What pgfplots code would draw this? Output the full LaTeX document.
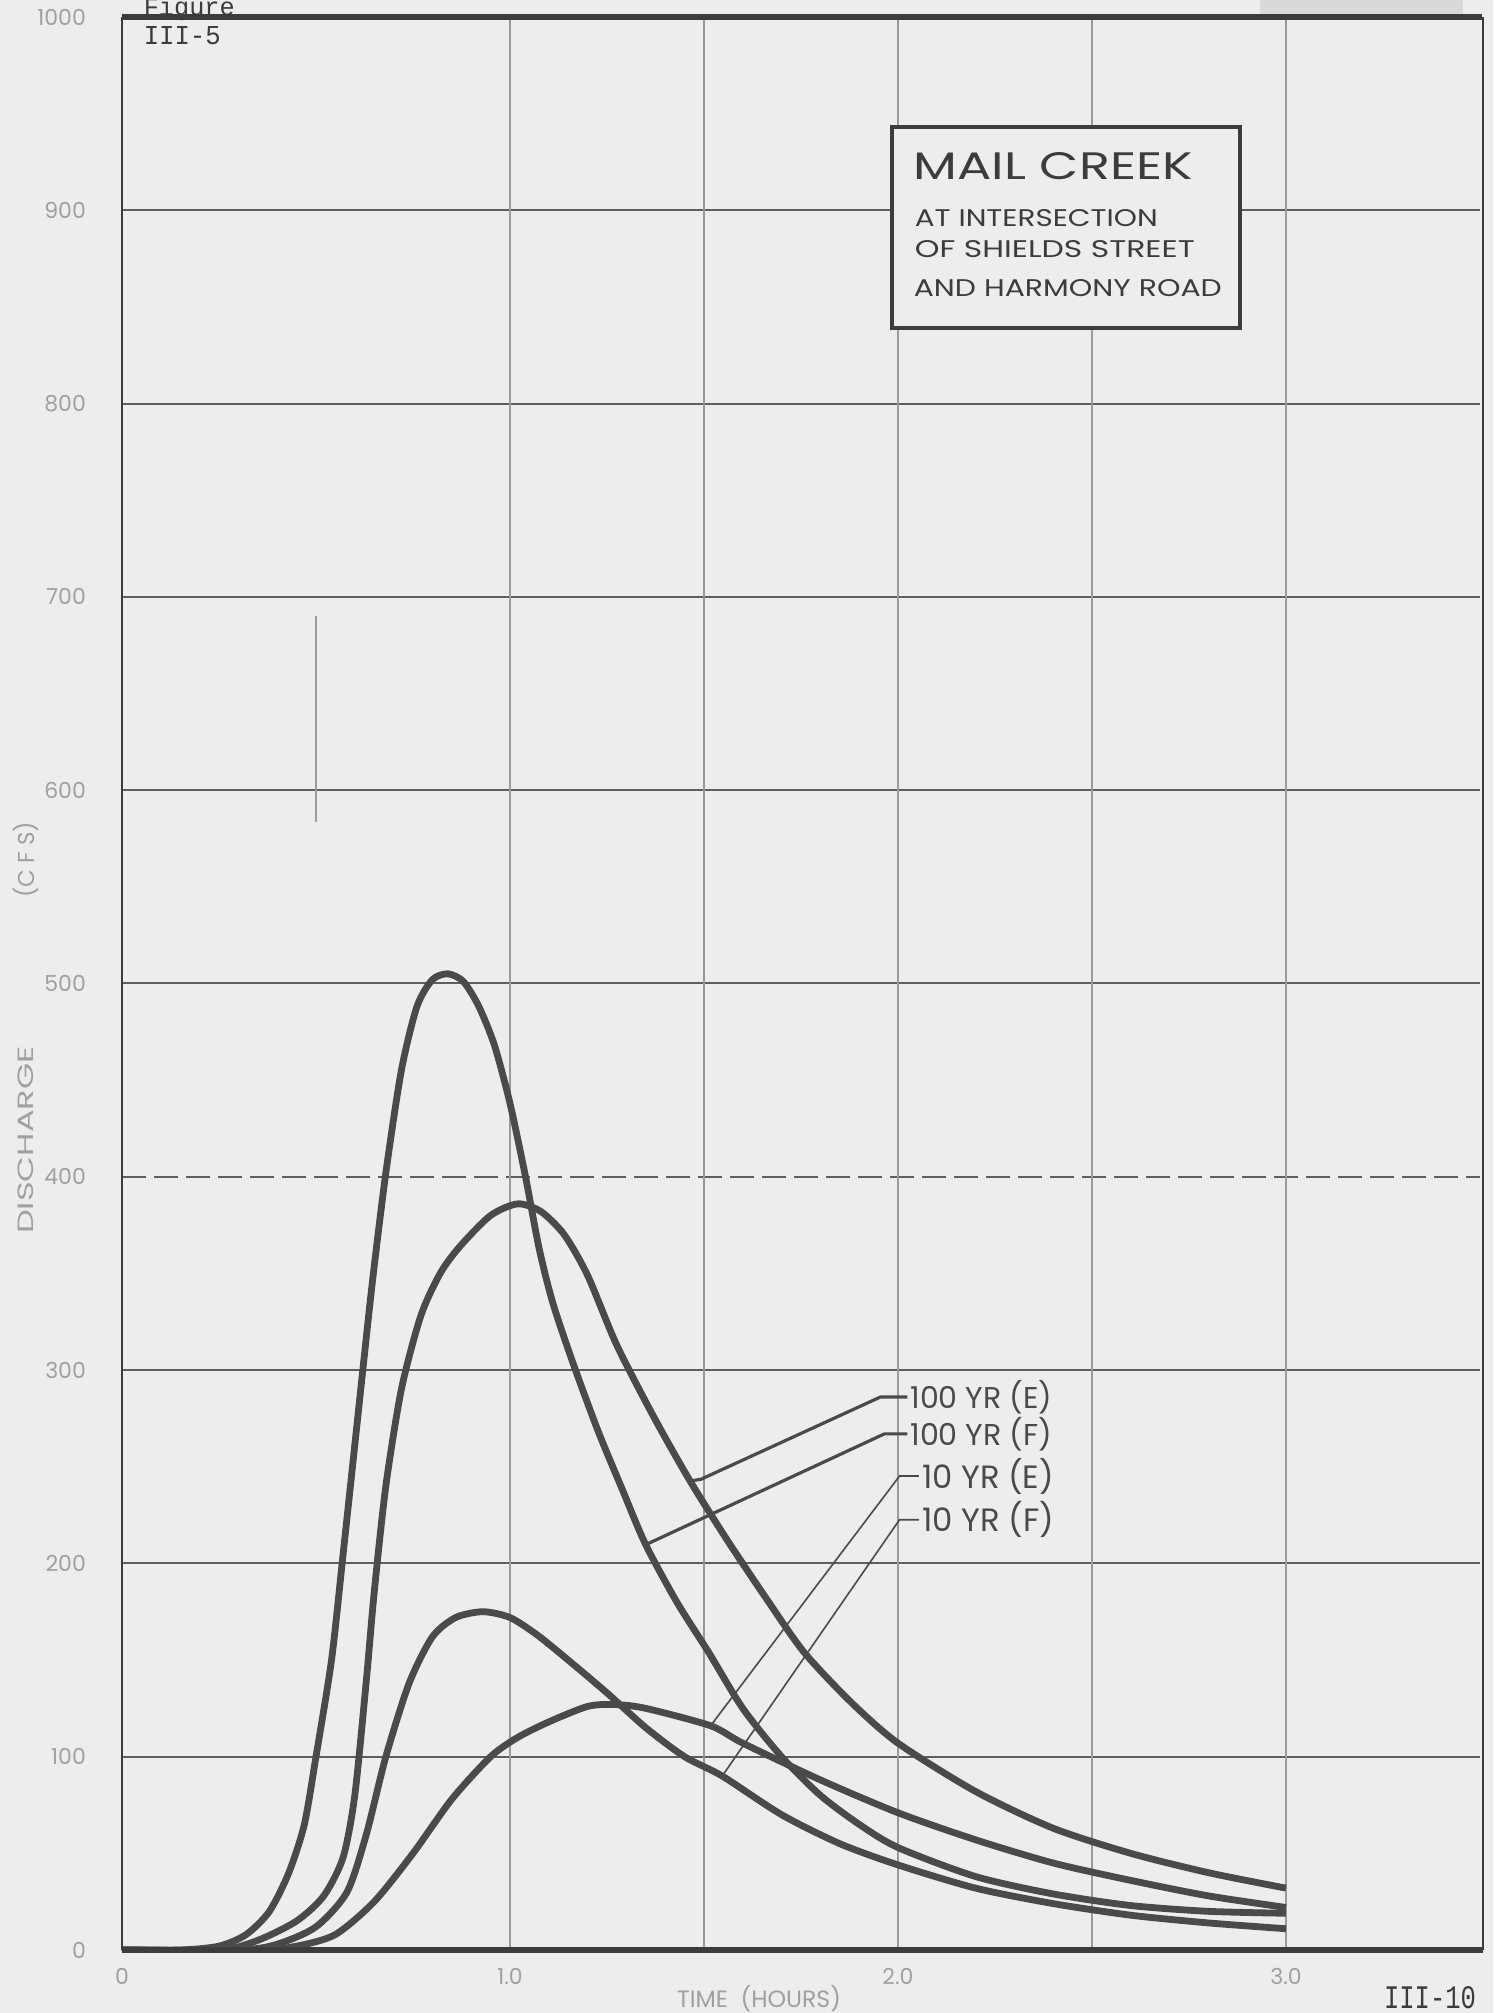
\documentclass[border=0pt]{standalone}
\usepackage{pgfplots}
\pgfplotsset{compat=1.18}
\usepackage{fontspec}
\setmainfont{Poppins}
\newfontfamily\tw{Liberation Mono}
\definecolor{bg}{HTML}{EDEDED}
\definecolor{ink}{HTML}{4A4A4A}
\definecolor{gridc}{HTML}{5E5E5E}
\definecolor{vgrid}{HTML}{999999}
\definecolor{faint}{HTML}{A0A0A0}
\definecolor{frame}{HTML}{3C3C3C}

\begin{document}
\begin{tikzpicture}
% background of the scanned sheet
\fill[bg] (-30.5pt,-15.75pt) rectangle (342.75pt,487.5pt);
% grid (under everything): 1 h = 97pt, 100 cfs = 48.325pt
\foreach \k in {1,2,3,5,6,7,8,9}{
  \draw[gridc, line width=0.5pt] (0,\k*48.325pt) -- (339.5pt,\k*48.325pt);
}
\draw[gridc, line width=0.5pt, dash pattern=on 6pt off 2pt] (0,4*48.325pt) -- (339.5pt,4*48.325pt);
\foreach \h in {1,1.5,2,2.5,3}{
  \draw[vgrid, line width=0.35pt] (\h*97pt,0) -- (\h*97pt,483.25pt);
}
\draw[vgrid, line width=0.35pt] (48.5pt,282pt) -- (48.5pt,333.5pt);

\begin{axis}[
  at={(0,0)}, anchor=south west,
  width=339.5pt, height=483.25pt, scale only axis,
  xmin=0, xmax=3.5, ymin=0, ymax=1000,
  axis line style={draw=none},
  major tick length=0pt,
  xtick={0,1,2,3}, xticklabels={0,1.0,2.0,3.0},
  ytick={0,100,200,300,400,500,600,700,800,900,1000},
  yticklabels={0,100,200,300,400,500,600,700,800,900,1000},
  xticklabel style={font=\fontsize{5.5}{6}\selectfont, text=faint, yshift=-1pt},
  yticklabel style={font=\fontsize{5.5}{6}\selectfont, text=faint, xshift=-5.5pt},
]
% 100 YR (F)
\addplot[ink, line width=1.7pt, smooth, tension=0.45] coordinates {
(0,0) (0.15,0) (0.25,2) (0.32,8) (0.38,20) (0.43,40) (0.47,65) (0.50,100)
(0.54,150) (0.57,205) (0.61,280) (0.645,345) (0.68,402) (0.72,455) (0.76,488)
(0.80,502) (0.84,505) (0.88,501) (0.92,488) (0.96,468) (1.00,438) (1.04,400)
(1.075,363) (1.11,335) (1.16,305) (1.226,269) (1.29,238) (1.349,210) (1.43,180)
(1.512,154) (1.60,125) (1.70,100) (1.80,80) (1.90,65) (2.0,53) (2.2,38)
(2.4,29) (2.6,23) (2.8,20) (3.0,19)};
% 100 YR (E)
\addplot[ink, line width=1.7pt, smooth, tension=0.45] coordinates {
(0,0) (0.25,0) (0.35,5) (0.45,15) (0.52,28) (0.57,48) (0.60,80) (0.63,140)
(0.65,185) (0.68,240) (0.72,290) (0.77,328) (0.82,350) (0.871,364) (0.95,380)
(1.02,386) (1.08,382) (1.14,370) (1.20,349) (1.275,313) (1.37,276) (1.463,243)
(1.56,212) (1.66,182) (1.758,154) (1.88,128) (2.0,107) (2.2,82) (2.4,63)
(2.6,50) (2.8,40) (3.0,32)};
% 10 YR (F)
\addplot[ink, line width=1.7pt, smooth, tension=0.45] coordinates {
(0,0) (0.30,0) (0.40,3) (0.50,12) (0.58,30) (0.63,60) (0.68,100) (0.74,138)
(0.80,162) (0.86,172) (0.93,175) (1.00,172) (1.07,163) (1.15,150) (1.25,133)
(1.35,115) (1.45,100) (1.547,90) (1.70,70) (1.85,55) (2.0,44) (2.2,32)
(2.4,24) (2.6,18) (2.8,14) (3.0,11)};
% 10 YR (E)
\addplot[ink, line width=1.7pt, smooth, tension=0.45] coordinates {
(0,0) (0.35,0) (0.45,2) (0.55,8) (0.65,25) (0.75,50) (0.85,78) (0.95,100)
(1.02,110) (1.10,118) (1.20,126) (1.27,127) (1.35,125) (1.517,116) (1.60,107)
(1.80,88) (2.0,71) (2.2,57) (2.4,45) (2.6,36) (2.8,28) (3.0,22)};

% leader lines
\draw[ink, line width=0.8pt] (axis cs:1.463,242.6) -- (axis cs:1.492,243.5) -- (axis cs:1.955,286.1) -- (axis cs:2.024,286.1);
\draw[ink, line width=0.8pt] (axis cs:1.349,209.6) -- (axis cs:1.965,267) -- (axis cs:2.024,267);
\draw[ink, line width=0.4pt] (axis cs:1.517,116) -- (axis cs:2.004,245.2) -- (axis cs:2.054,245.2);
\draw[ink, line width=0.4pt] (axis cs:1.547,90) -- (axis cs:2.004,222.6) -- (axis cs:2.054,222.6);
\node[anchor=west, inner sep=0pt, text=ink] at (axis cs:2.030,286.1) {\resizebox{35.5pt}{!}{100 YR (E)}};
\node[anchor=west, inner sep=0pt, text=ink] at (axis cs:2.030,267) {\resizebox{35.5pt}{!}{100 YR (F)}};
\node[anchor=west, inner sep=0pt, text=ink] at (axis cs:2.060,245.2) {\resizebox{33pt}{!}{10 YR (E)}};
\node[anchor=west, inner sep=0pt, text=ink] at (axis cs:2.060,222.6) {\resizebox{33pt}{!}{10 YR (F)}};
\end{axis}

% frame
\draw[frame, line width=0.7pt] (0,0) -- (0,483.25pt);
\draw[frame, line width=1.3pt] (0,483.25pt) -- (340pt,483.25pt);
\draw[frame, line width=0.6pt] (340.25pt,483.25pt) -- (340.25pt,0);
\draw[frame, line width=1.3pt] (0,0) -- (340.25pt,0);
\fill[black!15] (284.5pt,484pt) rectangle (335.25pt,487.5pt);

% title box
\draw[frame, line width=1pt, fill=bg] (192.5pt,405.5pt) rectangle (279.5pt,455.75pt);
\node[anchor=base west, inner sep=0pt, text=frame] at (197.75pt,442.5pt) {\resizebox{69.75pt}{6.75pt}{MAIL CREEK}};
\node[anchor=base west, inner sep=0pt, text=frame] at (198pt,430.75pt) {\resizebox{60.75pt}{4.25pt}{AT INTERSECTION}};
\node[anchor=base west, inner sep=0pt, text=frame] at (198pt,423pt) {\resizebox{70pt}{4.25pt}{OF SHIELDS STREET}};
\node[anchor=base west, inner sep=0pt, text=frame] at (197.75pt,413.25pt) {\resizebox{77pt}{4.25pt}{AND HARMONY ROAD}};

% sheet texts
\node[anchor=base west, inner sep=0pt, text=frame] at (5.25pt,483.6pt) {\tw\resizebox{22.75pt}{!}{Figure}};
\node[anchor=west, inner sep=0pt, text=frame] at (5.25pt,478.5pt) {\tw\resizebox{19.25pt}{4.5pt}{III-5}};
\node[text=faint, inner sep=0pt] at (159.25pt,-12.25pt) {\resizebox{41pt}{!}{TIME\ \ (HOURS)}};
\node[text=frame, inner sep=0pt] at (327pt,-12pt) {\tw\resizebox{23pt}{5.5pt}{III-10}};
\node[rotate=90, text=faint, inner sep=0pt] at (-24pt,202.5pt) {\resizebox{47pt}{3.9pt}{DISCHARGE}};
\node[rotate=90, text=faint, inner sep=0pt] at (-24pt,272.5pt) {\resizebox{19pt}{!}{(C F S)}};

\pgfresetboundingbox
\path (-30.5pt,-15.75pt) rectangle (342.75pt,487.5pt);
\end{tikzpicture}
\end{document}
